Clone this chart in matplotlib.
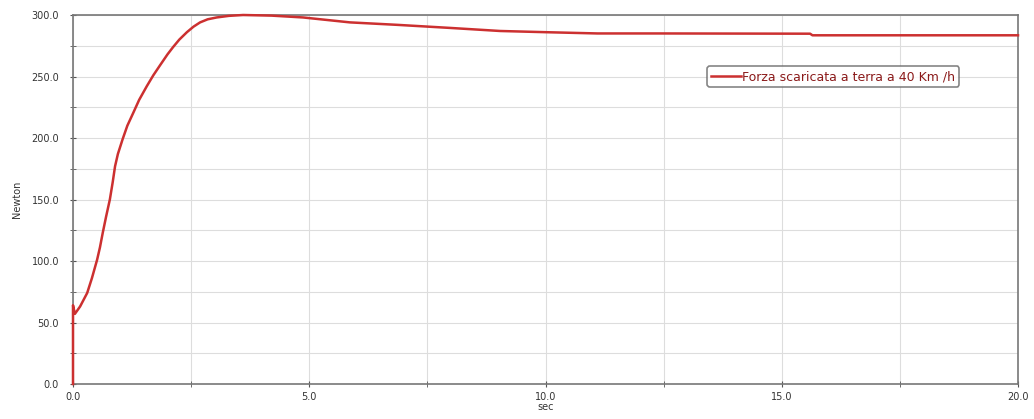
import matplotlib
matplotlib.use('Agg')
import matplotlib.pyplot as plt
from matplotlib.ticker import MultipleLocator, FormatStrFormatter

# tempo (sec) e forza (Newton)
t = [0.0, 0.0, 0.04, 0.15, 0.30, 0.40, 0.51, 0.57, 0.63, 0.70, 0.78, 0.84, 0.89,
     0.95, 1.05, 1.15, 1.27, 1.40, 1.56, 1.70, 1.84, 2.0, 2.12, 2.25, 2.41,
     2.55, 2.69, 2.85, 3.04, 3.3, 3.6, 4.2, 4.87, 5.86, 6.86, 7.98, 9.04,
     10.03, 11.1, 12.4, 15.6, 15.65, 20.0]
forza = [0.0, 64.0, 57.0, 63.0, 74.0, 86.0, 101.0, 111.0, 123.0, 136.0, 150.0,
         164.0, 177.0, 187.0, 199.0, 210.0, 220.0, 231.0, 242.0, 251.0, 259.0,
         268.0, 274.0, 280.0, 286.0, 290.5, 294.0, 296.5, 298.0, 299.3, 300.0,
         299.5, 298.0, 294.0, 292.0, 289.5, 287.0, 286.0, 285.0, 285.0, 284.8,
         283.5, 283.5]

label = 'Forza scaricata a terra a 40 Km /h'

fig = plt.figure(figsize=(10.34, 4.19), dpi=100)
ax = fig.add_axes([73/1034, 35/419, 945/1034, 369/419])

ax.plot(t, forza, color='#cc3030', lw=1.8, label=label, clip_on=False, zorder=5)

ax.set_xlim(0, 20)
ax.set_ylim(0, 300)
ax.xaxis.set_major_locator(MultipleLocator(5))
ax.xaxis.set_minor_locator(MultipleLocator(2.5))
ax.yaxis.set_major_locator(MultipleLocator(50))
ax.yaxis.set_minor_locator(MultipleLocator(25))
ax.xaxis.set_major_formatter(FormatStrFormatter('%.1f'))
ax.yaxis.set_major_formatter(FormatStrFormatter('%.1f'))
ax.grid(True, which='both', color='#dddddd', lw=0.8)
ax.set_axisbelow(True)
ax.tick_params(which='both', direction='inout', length=4, color='#555555',
               labelsize=7, labelcolor='#333333')
ax.tick_params(axis='y', pad=8)
ax.tick_params(axis='x', pad=4)
for s in ax.spines.values():
    s.set_color('#777777')
    s.set_linewidth(1.2)
    s.set_zorder(2)

ax.set_xlabel('sec', fontsize=7, color='#333333', labelpad=0)
ax.set_ylabel('Newton', fontsize=7, color='#333333', labelpad=7)

leg = ax.legend(loc='upper left', bbox_to_anchor=(628/945, 1 - 45/369),
                fontsize=9, frameon=True, fancybox=True, handlelength=2.4,
                borderpad=0.3, handletextpad=0.1)
leg.get_frame().set_edgecolor('#666666')
leg.get_frame().set_linewidth(1.2)
leg.set_zorder(6)
for txt in leg.get_texts():
    txt.set_color('#8b1a1a')

fig.savefig('out.png', dpi=100)
